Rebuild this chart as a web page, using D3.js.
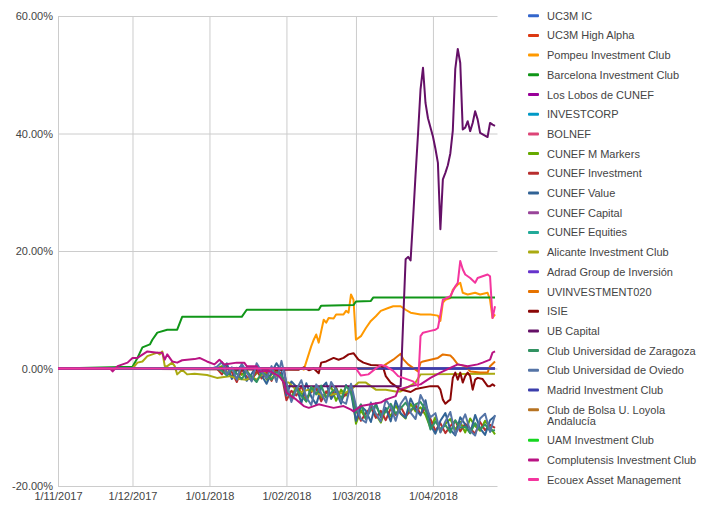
<!DOCTYPE html>
<html>
<head>
<meta charset="utf-8">
<script src="https://cdn.jsdelivr.net/npm/d3@7"></script>
<style>
  body { margin: 0; background: #fff; }
</style>
</head>
<body>
<div id="chart"></div>
<script>
// series names, in legend / drawing order
const seriesNames = [
  "UC3M IC", "UC3M High Alpha", "Pompeu Investment Club", "Barcelona Investment Club",
  "Los Lobos de CUNEF", "INVESTCORP", "BOLNEF", "CUNEF M Markers", "CUNEF Investment",
  "CUNEF Value", "CUNEF Capital", "CUNEF Equities", "Alicante Investment Club",
  "Adrad Group de Inversión", "UVINVESTMENT020", "ISIE", "UB Capital",
  "Club Universidad de Zaragoza", "Club Universidad de Oviedo", "Madrid Investment Club",
  "Club de Bolsa U. Loyola Andalucía", "UAM Investment Club", "Complutensis Investment Club",
  "Ecouex Asset Management"
];

const palette = [
  "#3366cc", "#dc3912", "#ff9900", "#109618", "#990099", "#0099c6", "#dd4477", "#66aa00",
  "#b82e2e", "#316395", "#994499", "#22aa99", "#aaaa11", "#6633cc", "#e67300", "#8b0707",
  "#651067", "#329262", "#5574a6", "#3b3eac", "#b77322", "#16d620", "#b91383", "#f4359e"
];

const xTickDates = ["2017-11-01", "2017-12-01", "2018-01-01", "2018-02-01", "2018-03-01", "2018-04-01"];
const yTickValues = [-20, 0, 20, 40, 60];

// returns in %, [date, value]
const flatZero = [["2017-11-01", 0], ["2018-04-26", 0]];

const pompeu = [["2017-11-01",0],["2018-02-07",0],["2018-02-08",-0.2],["2018-02-11",3.8],["2018-02-12",4.9],["2018-02-13",5.8],["2018-02-14",4.4],["2018-02-16",8.3],["2018-02-17",7.8],["2018-02-18",8.6],["2018-02-20",8.5],["2018-02-21",9.2],["2018-02-24",9.2],["2018-02-25",9.8],["2018-02-26",9.5],["2018-02-27",12.6],["2018-02-28",11.7],["2018-03-01",4.9],["2018-03-03",5.5],["2018-03-05",6.9],["2018-03-07",8.1],["2018-03-09",8.9],["2018-03-11",9.8],["2018-03-14",10.3],["2018-03-16",10.6],["2018-03-19",10.6],["2018-03-21",10.0],["2018-03-23",9.5],["2018-03-27",9.2],["2018-03-31",9.2],["2018-04-03",9.0],["2018-04-04",8.1],["2018-04-05",11.2],["2018-04-06",11.7],["2018-04-08",12.0],["2018-04-09",13.4],["2018-04-11",14.3],["2018-04-12",14.6],["2018-04-13",12.9],["2018-04-15",12.6],["2018-04-18",12.9],["2018-04-20",12.6],["2018-04-23",12.9],["2018-04-24",11.7],["2018-04-25",8.6],["2018-04-26",9.2]];

const barcelona = [["2017-11-01",0],["2017-12-01",0.3],["2017-12-03",1.8],["2017-12-05",3.6],["2017-12-08",4.1],["2017-12-09",4.9],["2017-12-11",6.1],["2017-12-15",6.6],["2017-12-19",6.6],["2017-12-21",8.8],["2018-01-14",8.8],["2018-01-16",10.0],["2018-02-14",10.0],["2018-02-15",10.7],["2018-02-28",10.8],["2018-03-01",11.4],["2018-03-07",11.5],["2018-03-08",12.1],["2018-04-26",12.1]];

const alicante = [["2017-11-01",0],["2017-12-01",0.0],["2017-12-03",1.0],["2017-12-05",1.2],["2017-12-07",2.1],["2017-12-09",2.4],["2017-12-11",2.7],["2017-12-12",2.4],["2017-12-13",2.9],["2017-12-14",0.4],["2017-12-15",0.4],["2017-12-17",1.0],["2017-12-18",0.4],["2017-12-19",-1.0],["2017-12-21",-0.2],["2017-12-23",-1.0],["2017-12-26",-0.9],["2017-12-31",-1.1],["2018-01-04",-1.6],["2018-01-09",-1.3],["2018-01-13",-1.8],["2018-01-16",-1.9],["2018-01-18",-1.4],["2018-01-20",-1.9],["2018-01-23",-0.7],["2018-01-25",-1.6],["2018-01-29",-1.3],["2018-02-01",-2.4],["2018-02-02",-2.4],["2018-02-06",-4.1],["2018-02-10",-3.6],["2018-02-16",-4.7],["2018-02-20",-4.4],["2018-02-25",-4.1],["2018-02-27",-3.6],["2018-03-02",-2.4],["2018-03-05",-2.4],["2018-03-09",-3.6],["2018-03-13",-3.6],["2018-03-17",-3.9],["2018-03-19",-3.9],["2018-03-25",-2.4],["2018-03-27",-1.0],["2018-04-26",-0.9]];

const uvinvestment = [["2017-11-01",0],["2018-03-11",0],["2018-03-13",0.7],["2018-03-16",1.5],["2018-03-19",2.5],["2018-03-20",1.6],["2018-03-22",0.7],["2018-03-24",0.1],["2018-03-26",-0.5],["2018-03-27",1.0],["2018-03-28",1.2],["2018-03-31",1.5],["2018-04-03",1.8],["2018-04-05",2.4],["2018-04-08",2.2],["2018-04-09",1.8],["2018-04-11",0.7],["2018-04-14",0.4],["2018-04-16",-0.5],["2018-04-20",-0.7],["2018-04-23",-0.7],["2018-04-24",0.4],["2018-04-26",1.2]];

const isie = [["2017-11-01",0],["2018-02-06",-0.2],["2018-02-08",0.2],["2018-02-10",-0.3],["2018-02-12",0.0],["2018-02-14",-0.8],["2018-02-15",1.0],["2018-02-17",1.2],["2018-02-20",1.8],["2018-02-22",1.5],["2018-02-24",1.8],["2018-02-26",2.4],["2018-02-28",2.6],["2018-03-02",1.5],["2018-03-04",1.0],["2018-03-07",0.6],["2018-03-11",0.5],["2018-03-12",0.1],["2018-03-13",-1.3],["2018-03-15",-2.4],["2018-03-17",-3.0],["2018-03-19",-3.6],["2018-03-21",-3.8],["2018-03-23",-4.0],["2018-03-25",-3.5],["2018-03-31",-3.0],["2018-04-03",-3.0],["2018-04-04",-3.6],["2018-04-05",-5.3],["2018-04-06",-6.0],["2018-04-07",-5.6],["2018-04-08",-5.3],["2018-04-09",-1.6],["2018-04-10",-0.7],["2018-04-11",-1.9],["2018-04-12",-0.7],["2018-04-13",-2.4],["2018-04-14",-1.3],["2018-04-15",-0.7],["2018-04-16",-1.3],["2018-04-17",-3.6],["2018-04-18",-1.9],["2018-04-19",-1.6],["2018-04-21",-1.8],["2018-04-23",-3.0],["2018-04-24",-3.0],["2018-04-25",-2.7],["2018-04-26",-3.0]];

const ubCapital = [["2017-11-01",0],["2018-01-31",0],["2018-02-01",-3.0],["2018-03-19",-3.0],["2018-03-20",8.0],["2018-03-21",18.6],["2018-03-22",19.0],["2018-03-23",18.4],["2018-03-24",25.5],["2018-03-25",33.0],["2018-03-26",40.0],["2018-03-27",47.5],["2018-03-28",51.2],["2018-03-29",45.2],["2018-03-30",42.6],["2018-04-01",39.5],["2018-04-02",37.4],["2018-04-03",35.0],["2018-04-04",23.7],["2018-04-05",32.2],["2018-04-06",33.3],["2018-04-07",34.6],["2018-04-08",36.6],["2018-04-09",40.5],["2018-04-10",51.0],["2018-04-11",54.4],["2018-04-12",52.0],["2018-04-13",40.7],["2018-04-14",41.0],["2018-04-15",42.1],["2018-04-16",40.4],["2018-04-17",41.8],["2018-04-18",43.8],["2018-04-19",42.4],["2018-04-20",40.1],["2018-04-23",39.4],["2018-04-24",41.8],["2018-04-25",41.5],["2018-04-26",41.3]];

const complutensis = [["2017-11-01",0],["2017-11-22",0],["2017-11-23",-0.5],["2017-11-25",0.4],["2017-11-27",0.7],["2017-11-29",1.0],["2017-12-01",1.8],["2017-12-03",1.8],["2017-12-07",2.9],["2017-12-11",2.7],["2017-12-13",2.7],["2017-12-14",1.5],["2017-12-15",2.4],["2017-12-17",1.2],["2017-12-19",1.0],["2017-12-21",1.4],["2017-12-26",1.6],["2017-12-28",1.8],["2017-12-31",1.2],["2018-01-03",0.7],["2018-01-05",1.5],["2018-01-07",0.7],["2018-01-12",1.0],["2018-01-15",1.0],["2018-01-16",0.4],["2018-01-20",0.4],["2018-01-21",-0.5],["2018-01-25",-0.4],["2018-01-29",-1.3],["2018-01-31",-2.4],["2018-02-01",-4.1],["2018-02-05",-5.3],["2018-02-08",-6.4],["2018-02-10",-6.7],["2018-02-14",-6.1],["2018-02-17",-6.4],["2018-02-20",-6.7],["2018-02-24",-6.4],["2018-02-27",-7.0],["2018-02-28",-7.3],["2018-03-03",-6.4],["2018-03-07",-6.1],["2018-03-11",-5.8],["2018-03-13",-5.3],["2018-03-17",-4.7],["2018-03-18",-3.6],["2018-03-23",-3.0],["2018-03-27",-2.7],["2018-03-31",-1.6],["2018-04-04",-0.7],["2018-04-08",0.1],["2018-04-11",0.7],["2018-04-15",0.4],["2018-04-19",0.7],["2018-04-21",1.0],["2018-04-24",1.5],["2018-04-25",2.7],["2018-04-26",2.9]];

const ecouex = [["2017-11-01",0],["2018-03-01",0],["2018-03-03",-1.2],["2018-03-06",-1.0],["2018-03-09",0.0],["2018-03-11",0.6],["2018-03-13",0.4],["2018-03-16",-0.4],["2018-03-18",-1.3],["2018-03-22",-1.9],["2018-03-24",-2.2],["2018-03-26",-3.0],["2018-03-27",5.5],["2018-03-28",6.1],["2018-03-31",6.4],["2018-04-02",6.6],["2018-04-03",6.9],["2018-04-04",9.2],["2018-04-05",11.7],["2018-04-08",12.3],["2018-04-10",14.0],["2018-04-11",14.6],["2018-04-12",18.3],["2018-04-13",16.9],["2018-04-14",16.0],["2018-04-16",15.4],["2018-04-18",14.6],["2018-04-19",15.4],["2018-04-21",15.7],["2018-04-23",16.0],["2018-04-24",15.7],["2018-04-25",8.6],["2018-04-26",10.6]];

// the choppy CUNEF / Club series share one date column
const noisyDates = ["2017-11-01","2018-01-02",
  "2018-01-04","2018-01-06","2018-01-08","2018-01-10","2018-01-12","2018-01-14","2018-01-16","2018-01-18","2018-01-20","2018-01-22","2018-01-24","2018-01-26","2018-01-28","2018-01-30",
  "2018-02-01","2018-02-03","2018-02-05","2018-02-07","2018-02-09","2018-02-11","2018-02-13","2018-02-15","2018-02-17","2018-02-19","2018-02-21","2018-02-23","2018-02-25","2018-02-27",
  "2018-03-01","2018-03-03","2018-03-05","2018-03-07","2018-03-09","2018-03-11","2018-03-13","2018-03-15","2018-03-17","2018-03-19","2018-03-21","2018-03-23","2018-03-25","2018-03-27","2018-03-29","2018-03-31",
  "2018-04-02","2018-04-04","2018-04-06","2018-04-08","2018-04-10","2018-04-12","2018-04-14","2018-04-16","2018-04-18","2018-04-20","2018-04-22","2018-04-24","2018-04-26"];

const cunefValue = [0,0,
  0.0,-0.3,0.9,-1.8,-0.4,0.6,-2.1,-0.9,0.4,-1.2,-2.6,-0.7,0.9,-0.4,
  -4.6,-2.2,-3.1,-5.9,-2.5,-4.8,-6.1,-3.3,-2.4,-5.2,-3.9,-6.0,-2.8,-4.1,
  -8.9,-6.4,-7.2,-9.1,-5.9,-8.3,-6.7,-9.0,-5.5,-7.6,-8.4,-5.1,-6.9,-8.0,-5.4,-9.6,
  -11.1,-8.9,-7.6,-10.4,-11.4,-8.3,-9.5,-11.0,-7.9,-10.2,-11.3,-8.8,-8.1];

const oviedo = [0,0,
  0.3,1.1,-1.0,0.2,-1.9,0.8,-0.6,-2.2,0.9,-0.5,-1.7,0.4,-2.3,1.3,
  -2.4,-5.7,-3.6,-2.0,-4.9,-6.2,-2.7,-4.2,-5.8,-2.3,-3.7,-5.5,-6.0,-2.6,
  -6.3,-8.6,-9.2,-5.8,-7.7,-9.0,-5.3,-6.6,-8.9,-6.0,-4.8,-7.5,-8.6,-4.5,-6.2,-8.3,
  -7.6,-10.9,-9.0,-7.4,-11.2,-9.6,-7.8,-10.6,-11.4,-8.5,-7.7,-10.8,-7.9];

const mMarkers = [0,0,
  0,0.4,-0.6,-1.4,0.1,-1.1,-0.3,-1.7,-0.8,-0.2,-1.9,-1.0,-0.3,-1.3,
  -3.2,-4.9,-3.0,-4.1,-5.6,-3.7,-2.9,-5.0,-4.2,-3.1,-5.5,-3.6,-4.6,-2.9,
  -9.4,-7.1,-8.6,-6.4,-7.8,-9.2,-6.9,-8.1,-6.3,-7.7,-8.5,-6.0,-7.3,-6.6,-7.9,-10.1,
  -8.3,-10.8,-9.4,-8.6,-10.4,-9.1,-10.9,-8.5,-9.8,-10.6,-8.9,-10.0,-11.2];

const cunefInvestment = [0,0,
  0,-1.0,0.4,-0.6,-2.3,-0.2,-1.4,-2.0,-0.4,-1.7,-0.6,-2.1,-0.3,-0.9,
  -5.4,-3.8,-4.6,-3.0,-5.1,-4.0,-3.4,-5.6,-3.9,-4.7,-3.2,-5.3,-4.3,-3.6,
  -7.0,-8.9,-7.6,-6.6,-8.4,-7.2,-8.8,-6.8,-7.9,-6.5,-8.1,-7.3,-6.2,-7.8,-6.7,-8.6,
  -10.6,-9.3,-11.0,-9.8,-8.9,-10.7,-9.4,-10.2,-11.1,-9.1,-10.5,-9.6,-10.1];

const zaragoza = [0,0,
  0,-0.4,-1.2,-0.1,-0.9,-1.8,-0.5,-1.4,-2.3,-0.7,-1.1,-1.9,-0.6,-1.2,
  -3.8,-5.2,-3.3,-4.7,-5.6,-3.1,-4.4,-2.9,-5.0,-4.1,-3.4,-5.2,-3.0,-4.0,
  -7.5,-6.1,-8.6,-7.0,-6.3,-8.0,-7.4,-6.0,-7.7,-6.8,-5.8,-7.2,-6.1,-5.7,-7.0,-10.4,
  -9.0,-10.3,-9.6,-10.9,-8.8,-10.1,-9.9,-11.0,-9.3,-10.4,-9.5,-10.6,-10.5];

const parseDate = d3.timeParse("%Y-%m-%d");
const fromPairs = arr => arr.map(d => ({ date: parseDate(d[0]), value: d[1] }));
const fromColumn = vals => vals.map((v, i) => ({ date: parseDate(noisyDates[i]), value: v }));

const dataByName = {
  "UC3M IC": fromPairs(flatZero),
  "UC3M High Alpha": fromPairs(flatZero),
  "Pompeu Investment Club": fromPairs(pompeu),
  "Barcelona Investment Club": fromPairs(barcelona),
  "Los Lobos de CUNEF": fromPairs(flatZero),
  "INVESTCORP": fromPairs(flatZero),
  "BOLNEF": fromPairs(flatZero),
  "CUNEF M Markers": fromColumn(mMarkers),
  "CUNEF Investment": fromColumn(cunefInvestment),
  "CUNEF Value": fromColumn(cunefValue),
  "CUNEF Capital": fromPairs(flatZero),
  "CUNEF Equities": fromPairs(flatZero),
  "Alicante Investment Club": fromPairs(alicante),
  "Adrad Group de Inversión": fromPairs(flatZero),
  "UVINVESTMENT020": fromPairs(uvinvestment),
  "ISIE": fromPairs(isie),
  "UB Capital": fromPairs(ubCapital),
  "Club Universidad de Zaragoza": fromColumn(zaragoza),
  "Club Universidad de Oviedo": fromColumn(oviedo),
  "Madrid Investment Club": fromPairs(flatZero),
  "Club de Bolsa U. Loyola Andalucía": [],
  "UAM Investment Club": [],
  "Complutensis Investment Club": fromPairs(complutensis),
  "Ecouex Asset Management": fromPairs(ecouex)
};

const series = seriesNames.map((name, i) => ({ name: name, color: palette[i], points: dataByName[name] }));

// layout
const w = 708, h = 511;
const plotLeft = 58, plotRight = 497.5, plotTop = 16, plotBottom = 486;
const fontFamily = "Arial, 'Liberation Sans', sans-serif";

const svg = d3.select("#chart").append("svg")
  .attr("width", w)
  .attr("height", h)
  .style("background", "#fff");

const x = d3.scaleTime()
  .domain([parseDate("2017-11-01"), parseDate("2018-04-27")])
  .range([plotLeft, plotRight]);

const y = d3.scaleLinear()
  .domain([-20, 60])
  .range([plotBottom, plotTop]);

// gridlines + labels
svg.append("g")
  .attr("transform", `translate(${plotLeft},0)`)
  .call(d3.axisLeft(y)
    .tickValues(yTickValues)
    .tickSize(-(plotRight - plotLeft))
    .tickPadding(5)
    .tickFormat(d => d.toFixed(2) + "%"))
  .call(g => g.select(".domain").remove())
  .call(g => g.selectAll("line").attr("stroke", "#cccccc"))
  .call(g => g.selectAll("text")
    .attr("fill", "#444")
    .attr("font-family", fontFamily)
    .attr("font-size", 11));

svg.append("g")
  .attr("transform", `translate(0,${plotBottom})`)
  .call(d3.axisBottom(x)
    .tickValues(xTickDates.map(parseDate))
    .tickSize(-(plotBottom - plotTop))
    .tickPadding(6)
    .tickFormat(d3.timeFormat("%-d/%m/%Y")))
  .call(g => g.select(".domain").remove())
  .call(g => g.selectAll("line").attr("stroke", "#cccccc"))
  .call(g => g.selectAll("text")
    .attr("fill", "#444")
    .attr("font-family", fontFamily)
    .attr("font-size", 11));

const line = d3.line()
  .x(d => x(d.date))
  .y(d => y(d.value));

svg.append("g")
  .selectAll("path")
  .data(series.filter(s => s.points.length > 0))
  .enter()
  .append("path")
    .attr("d", d => line(d.points))
    .attr("fill", "none")
    .attr("stroke", d => d.color)
    .attr("stroke-width", 2)
    .attr("stroke-linejoin", "round");

// legend
const legendX = 528, legendTextX = 547;
const legendTop = 15.7, legendStep = 19.7, legendLineGap = 10.8, legendMaxWidth = 158;
const legend = svg.append("g");
let cy = legendTop;

series.forEach(s => {
  legend.append("rect")
    .attr("x", legendX)
    .attr("y", cy - 1.5)
    .attr("width", 11)
    .attr("height", 3)
    .attr("rx", 1)
    .attr("fill", s.color);

  const label = legend.append("text")
    .attr("x", legendTextX)
    .attr("y", cy + 4)
    .attr("fill", "#444")
    .attr("font-family", fontFamily)
    .attr("font-size", 11);

  // simple word wrap
  const words = s.name.split(" ");
  let lineWords = [];
  let tspan = label.append("tspan").attr("x", legendTextX);
  let lines = 1;
  words.forEach(word => {
    lineWords.push(word);
    tspan.text(lineWords.join(" "));
    if (tspan.node().getComputedTextLength() > legendMaxWidth && lineWords.length > 1) {
      lineWords.pop();
      tspan.text(lineWords.join(" "));
      lineWords = [word];
      tspan = label.append("tspan").attr("x", legendTextX).attr("dy", legendLineGap).text(word);
      lines++;
    }
  });

  cy += legendStep + (lines - 1) * legendLineGap;
});
</script>
</body>
</html>
